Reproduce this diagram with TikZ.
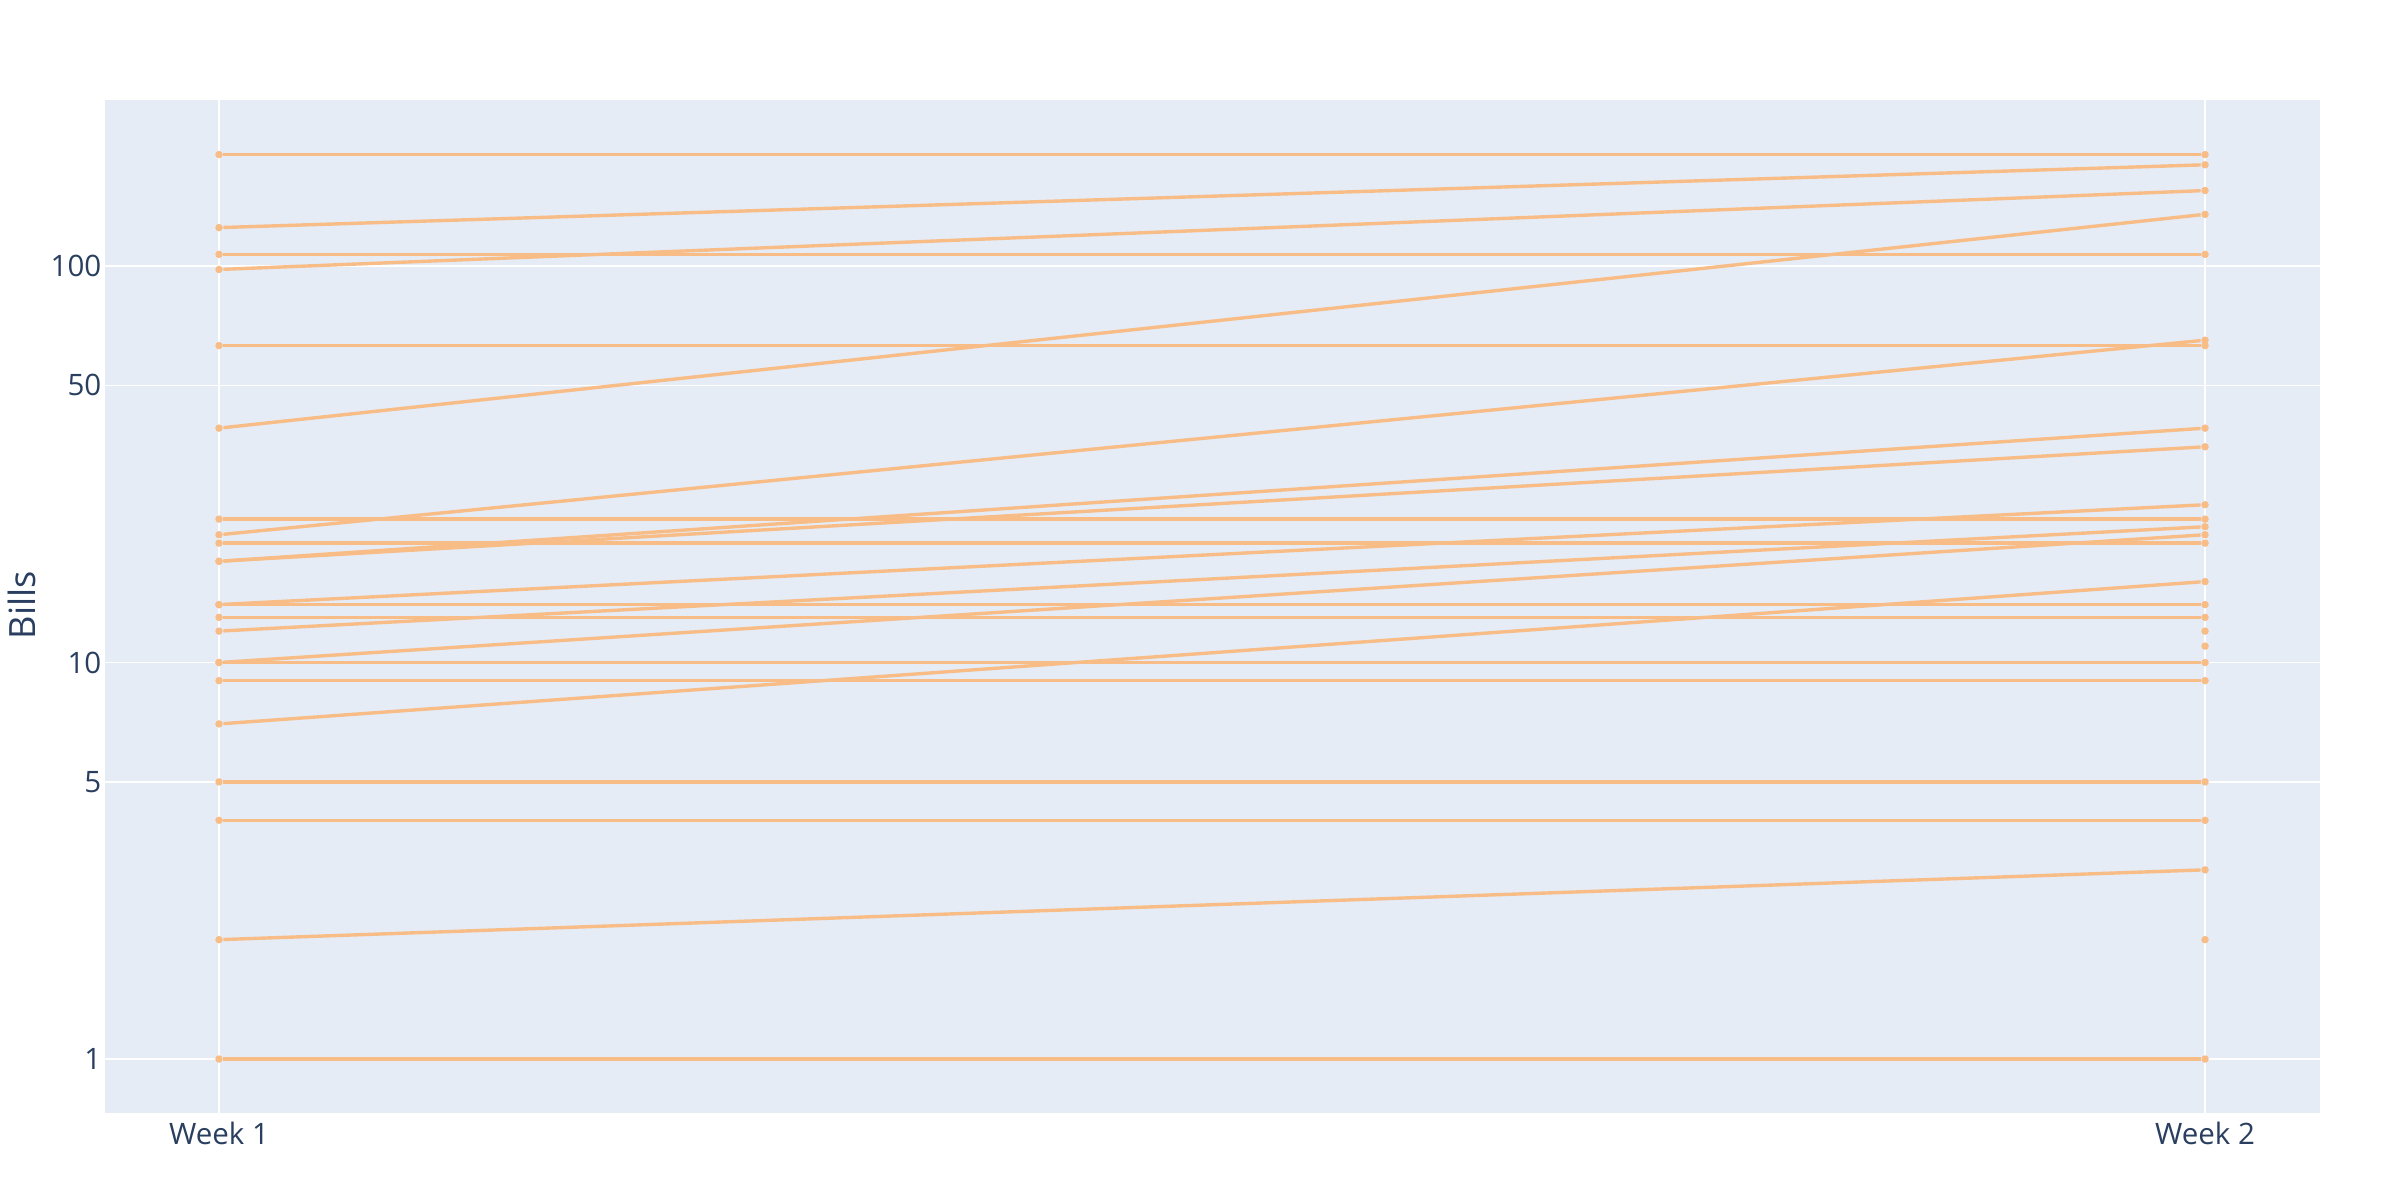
\documentclass[tikz,border=0pt]{standalone}
\usepackage{fontspec}
\setmainfont{Open Sans}
\usepackage{tikz}
\usetikzlibrary{positioning}

\definecolor{plotbg}{RGB}{229,236,246}
\definecolor{traceorange}{RGB}{248,188,135}
\definecolor{axistext}{RGB}{42,63,95}

\begin{document}
\begin{tikzpicture}[
    trace/.style={draw=traceorange, line width=0.034cm},
    dot/.style={circle, fill=traceorange, minimum size=0.075cm, inner sep=0pt},
    gridline/.style={draw=white, line width=0.015cm},
    tick/.style={font=\fontsize{8.4}{10}\selectfont, text=axistext, inner sep=0pt},
    axtitle/.style={font=\fontsize{10.3}{12}\selectfont, text=axistext, inner sep=0pt}
]
\useasboundingbox (0,0) rectangle (24,12);

% Lanes
\def\xL{1.05}
\def\xR{23.20}
\def\xA{2.19}
\def\xB{22.05}

% Rows
\def\yBot{0.87}
\def\yTop{11.00}
\def\yOne{1.41}
\def\dec{3.965}

% Plot area
\fill[plotbg] (\xL,\yBot) rectangle (\xR,\yTop);

% Horizontal grid and tick labels
\foreach \v in {1,5,10,50,100}{
  \coordinate (gl\v) at (\xL,{\yOne+\dec*log10(\v)});
  \coordinate (gr\v) at (\xR,{\yOne+\dec*log10(\v)});
  \draw[gridline] (gl\v) -- (gr\v);
  \node[tick, left=0.03cm of gl\v] (tick\v) {\v};
}

% Week lanes
\coordinate (wk1) at (\xA,\yBot);
\coordinate (wk1top) at (\xA,\yTop);
\coordinate (wk2) at (\xB,\yBot);
\coordinate (wk2top) at (\xB,\yTop);
\draw[gridline] (wk1) -- (wk1top);
\draw[gridline] (wk2) -- (wk2top);
\node[tick, below=0.08cm of wk1] (lab1) {Week 1};
\node[tick, below=0.08cm of wk2] (lab2) {Week 2};

% Axis title
\node[axtitle, rotate=90] (ytitle) at (0.22,5.95) {Bills};

% Traces: week 1 -> week 2
\foreach \wa/\wb [count=\i] in {191/191, 125/180, 107/107, 98/155, 63/63,
    39/135, 23/23, 21/65, 20/20, 18/39, 18/35, 14/14, 14/25, 13/13, 12/22,
    10/10, 10/21, 9/9, 7/16, 5/5, 4/4, 2/3, 1/1}{
  \node[dot] (a\i) at (\xA,{\yOne+\dec*log10(\wa)}) {};
  \node[dot] (b\i) at (\xB,{\yOne+\dec*log10(\wb)}) {};
  \draw[trace] (a\i) -- (b\i);
}

% Week 2 only
\foreach \wb [count=\i] in {12,11,2}
  \node[dot] (solo\i) at (\xB,{\yOne+\dec*log10(\wb)}) {};
\end{tikzpicture}
\end{document}
